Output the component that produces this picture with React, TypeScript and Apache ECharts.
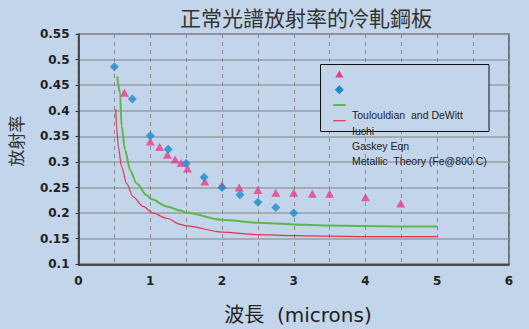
import React, { useEffect, useRef } from "react";
import * as echarts from "echarts";

const titleText = "正常光譜放射率的冷軋鋼板";
const yName = "放射率";
const xName = "波長  (microns)";
const legendNames = ["Toulouldian  and DeWitt", "Iuchi", "Gaskey Eqn", "Metallic  Theory (Fe@800 C)"];

const yTicks = { min: 0.1, max: 0.55, interval: 0.05 };
const xTicks = { min: 0, max: 6, interval: 0.5 };

const pinkX = [0.64, 1.0, 1.13, 1.24, 1.345, 1.43, 1.52, 1.76, 2.0, 2.24, 2.5, 2.75, 3.0, 3.26, 3.5, 4.0, 4.49];
const pinkY = [0.435, 0.34, 0.329, 0.314, 0.305, 0.298, 0.287, 0.262, 0.255, 0.25, 0.245, 0.24, 0.24, 0.238, 0.238, 0.231, 0.219];

const blueX = [0.5, 0.75, 1.0, 1.25, 1.5, 1.75, 2.0, 2.25, 2.5, 2.75, 3.0];
const blueY = [0.486, 0.423, 0.351, 0.325, 0.297, 0.27, 0.25, 0.236, 0.221, 0.211, 0.2];

const greenX = [0.54, 0.58, 0.6, 0.65, 0.72, 0.81, 0.95, 1.02, 1.23, 1.42, 1.5, 2.0, 2.5, 3.0, 3.5, 4.0, 4.5, 5.0];
const greenY = [0.467, 0.434, 0.37, 0.323, 0.284, 0.258, 0.235, 0.227, 0.213, 0.205, 0.201, 0.187, 0.181, 0.178, 0.176, 0.175, 0.174, 0.174];

const redX = [0.52, 0.53, 0.555, 0.6, 0.67, 0.76, 0.9, 1.04, 1.23, 1.42, 1.5, 2.0, 2.5, 3.0, 3.5, 4.0, 5.0];
const redY = [0.403, 0.369, 0.33, 0.291, 0.258, 0.232, 0.213, 0.2, 0.19, 0.178, 0.175, 0.163, 0.158, 0.156, 0.155, 0.154, 0.154];

const zip = (xs: number[], ys: number[]) => xs.map((x, i) => [x, ys[i]]);

const BG = "#c2d5ea";
const PINK = "#ec3b88";
const BLUE = "#1a8ccc";
const GREEN = "#5cb848";
const RED = "#e5334f";

export default function App() {
  const ref = useRef<HTMLDivElement>(null);
  useEffect(() => {
    if (!ref.current) return;
    const chart = echarts.init(ref.current, undefined, { renderer: "svg" });
    const labelFont = { fontFamily: "DejaVu Sans", fontWeight: "bold" as const, fontSize: 12, color: "#222" };
    const legendFont = { fontFamily: "Liberation Sans, Arial", fontSize: 10.5, fill: "#222" };
    chart.setOption({
      animation: false,
      backgroundColor: BG,
      grid: { left: 78.5, right: 20, top: 34, bottom: 64.7, show: true, borderColor: "#555", borderWidth: 1.5, backgroundColor: "transparent" },
      xAxis: {
        type: "value",
        min: xTicks.min,
        max: xTicks.max,
        interval: xTicks.interval,
        axisLine: { show: true, lineStyle: { color: "#333", width: 1.5 } },
        axisTick: { show: false },
        axisLabel: {
          ...labelFont,
          margin: 11,
          formatter: (v: number) => (Math.abs(v - Math.round(v)) < 1e-6 ? String(Math.round(v)) : ""),
          showMinLabel: true,
          showMaxLabel: true,
        },
        splitLine: { show: true, lineStyle: { color: "#8a8a8a", type: [4, 4], width: 1 } },
      },
      yAxis: {
        type: "value",
        min: yTicks.min,
        max: yTicks.max,
        interval: yTicks.interval,
        axisLine: { show: true, lineStyle: { color: "#333", width: 1.5 } },
        axisTick: { show: true, length: 3, lineStyle: { color: "#333" } },
        axisLabel: { ...labelFont, margin: 9 },
        splitLine: { show: true, lineStyle: { color: "#989da4", width: 1.5 } },
      },
      series: [
        {
          type: "line",
          data: zip(greenX, greenY),
          smooth: 0.3,
          smoothMonotone: "x",
          showSymbol: false,
          lineStyle: { color: GREEN, width: 2 },
          z: 3,
        },
        {
          type: "line",
          data: zip(redX, redY),
          smooth: 0.3,
          smoothMonotone: "x",
          showSymbol: false,
          lineStyle: { color: RED, width: 1.2 },
          z: 3,
        },
        {
          type: "scatter",
          data: zip(pinkX, pinkY),
          symbol: "triangle",
          symbolSize: [9, 8],
          itemStyle: { color: PINK },
          z: 4,
        },
        {
          type: "scatter",
          data: zip(blueX, blueY),
          symbol: "diamond",
          symbolSize: 9,
          itemStyle: { color: BLUE },
          z: 5,
        },
      ],
      graphic: [
        {
          type: "text",
          x: 306,
          y: 17,
          style: { text: titleText, fontFamily: "Noto Sans CJK TC", fontSize: 21, fill: "#333", align: "center", verticalAlign: "middle" },
        },
        {
          type: "text",
          x: 15,
          y: 141,
          rotation: Math.PI / 2,
          style: { text: yName, fontFamily: "Noto Sans CJK TC", fontSize: 17, fill: "#333", align: "center", verticalAlign: "middle" },
        },
        {
          type: "text",
          x: 298,
          y: 315,
          style: { text: xName, fontFamily: "DejaVu Sans, Noto Sans CJK TC", fontSize: 20, fill: "#222", align: "center", verticalAlign: "middle" },
        },
        {
          type: "rect",
          z: 100,
          shape: { x: 320.5, y: 64.5, width: 168.5, height: 67 },
          style: { fill: BG, stroke: "#111", lineWidth: 1 },
        },
        {
          type: "polygon",
          z: 101,
          shape: { points: [[339.3, 70.5], [343.5, 77.5], [335.1, 77.5]] },
          style: { fill: PINK },
        },
        {
          type: "polygon",
          z: 101,
          shape: { points: [[339.3, 85.2], [343.8, 89.7], [339.3, 94.2], [334.8, 89.7]] },
          style: { fill: BLUE },
        },
        {
          type: "line",
          z: 101,
          shape: { x1: 333.3, y1: 105, x2: 345.7, y2: 105 },
          style: { stroke: GREEN, lineWidth: 2 },
        },
        {
          type: "line",
          z: 101,
          shape: { x1: 333.3, y1: 120.7, x2: 345.7, y2: 120.7 },
          style: { stroke: RED, lineWidth: 1.2 },
        },
        ...legendNames.map((t, i) => ({
          type: "text",
          z: 102,
          x: 352,
          y: [115, 130.5, 146, 161][i],
          style: { text: t, ...legendFont, align: "left", verticalAlign: "middle" },
        })),
      ],
    });
    return () => chart.dispose();
  }, []);
  return <div ref={ref} style={{ position: "fixed", left: 0, top: 0, width: 529, height: 329 }} />;
}
